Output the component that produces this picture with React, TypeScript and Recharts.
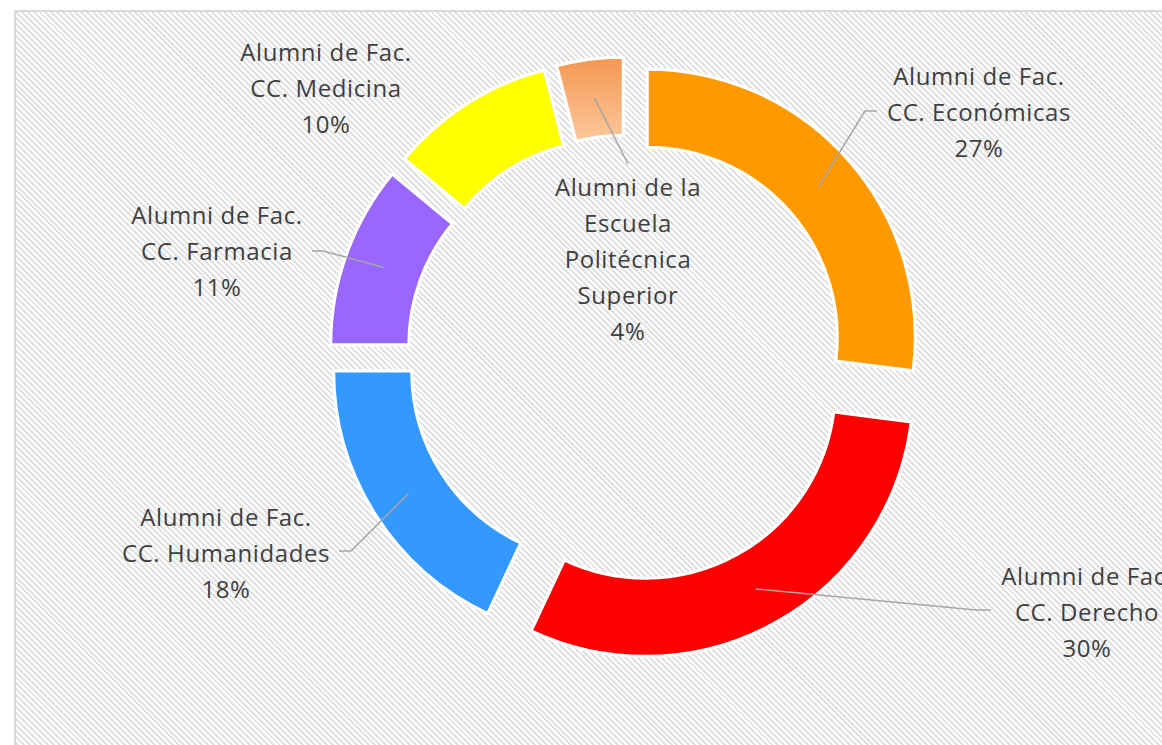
import { PieChart, Pie, Cell } from 'recharts'

const CATEGORIAS = [
  'Alumni de Fac.\nCC. Económicas',
  'Alumni de Fac.\nCC. Derecho',
  'Alumni de Fac.\nCC. Humanidades',
  'Alumni de Fac.\nCC. Farmacia',
  'Alumni de Fac.\nCC. Medicina',
  'Alumni de la\nEscuela\nPolitécnica\nSuperior',
]
const VALORES = [27, 30, 18, 11, 10, 4]

const CORES = ['#FF9900', '#FF0000', '#3399FF', '#9966FF', '#FFFF00', 'url(#gradPolitecnica)']

// how far each slice is pulled out from the centre
const EXPLOSAO = [27, 38, 30, 30, 30, 30]

// label placement (text centre x, first line centre y, leader start + elbow)
const LABEL_LAYOUT = [
  { x: 979, y: 76, leader: [[877, 111], [865, 111]] },
  { x: 1087, y: 576, leader: [[991, 610], [976, 610]] },
  { x: 226, y: 517, leader: [[339, 551], [351, 551]] },
  { x: 217, y: 215, leader: [[312, 251], [323, 251]] },
  { x: 326, y: 52, leader: null },
  { x: 628, y: 187, leader: [[628, 164]] },
]

const W = 1162
const H = 745
const CX = 627
const CY = 355
const OUTER = 268
const INNER = 190
const LINE_H = 36
const FONT = "'Open Sans', sans-serif"
const TXT = '#404040'
const LEADER = '#A6A6A6'

const data = CATEGORIAS.map((name, i) => ({ name, value: VALORES[i] }))
const total = VALORES.reduce((s, v) => s + v, 0)
const RAD = Math.PI / 180

// mid angle of every slice (recharts convention, start at 90, clockwise)
const midAngles = VALORES.map((v, i) => {
  const before = VALORES.slice(0, i).reduce((s, x) => s + x, 0)
  return 90 - (360 * (before + v / 2)) / total
})

const HATCH =
  'repeating-linear-gradient(45deg, #ffffff 0px, #ffffff 2.1px, #e2e2e2 2.1px, #e2e2e2 4.2px)'

function makeLabel(k: number) {
  return (props: any) => {
    if (props.index !== k) return null
    const { cx, cy, midAngle, innerRadius, outerRadius, percent } = props
    const mr = (innerRadius + outerRadius) / 2
    const px = cx + mr * Math.cos(-midAngle * RAD)
    const py = cy + mr * Math.sin(-midAngle * RAD)
    const lay = LABEL_LAYOUT[k]
    const lines = [...CATEGORIAS[k].split('\n'), `${Math.round(percent * 100)}%`]
    const pts = lay.leader ? [...lay.leader, [px, py]] : null
    return (
      <g key={`lbl-${k}`}>
        {pts && (
          <polyline
            points={pts.map((p) => p.join(',')).join(' ')}
            fill="none"
            stroke={LEADER}
            strokeWidth={1.5}
          />
        )}
        <text
          x={lay.x}
          y={lay.y}
          textAnchor="middle"
          fontFamily={FONT}
          fontSize={24}
          letterSpacing={0.6}
          fill={TXT}
        >
          {lines.map((l, j) => (
            <tspan key={j} x={lay.x} y={lay.y + j * LINE_H} dy="0.36em">
              {l}
            </tspan>
          ))}
        </text>
      </g>
    )
  }
}

export default function App() {
  return (
    <div style={{ position: 'fixed', left: 0, top: 0, width: W, height: H, overflow: 'hidden', background: '#fff' }}>
      <div
        style={{
          position: 'absolute',
          left: 14,
          top: 10,
          width: W + 20,
          height: H + 20,
          border: '2px solid #D9D9D9',
          backgroundImage: HATCH,
        }}
      />
      <div style={{ position: 'absolute', left: 0, top: 0 }}>
        <PieChart width={W} height={H} margin={{ top: 0, right: 0, bottom: 0, left: 0 }}>
          <defs>
            <linearGradient id="gradPolitecnica" x1="0" y1="0" x2="0" y2="1">
              <stop offset="0%" stopColor="#F59650" />
              <stop offset="100%" stopColor="#FBC89C" />
            </linearGradient>
          </defs>
          {VALORES.map((_, k) => (
            <Pie
              key={k}
              data={data}
              dataKey="value"
              nameKey="name"
              cx={CX + EXPLOSAO[k] * Math.cos(-midAngles[k] * RAD)}
              cy={CY + EXPLOSAO[k] * Math.sin(-midAngles[k] * RAD)}
              innerRadius={INNER}
              outerRadius={OUTER}
              startAngle={90}
              endAngle={-270}
              isAnimationActive={false}
              labelLine={false}
              label={makeLabel(k)}
            >
              {data.map((_d, i) => (
                <Cell
                  key={i}
                  fill={i === k ? CORES[i] : 'none'}
                  stroke={i === k ? '#ffffff' : 'none'}
                  strokeWidth={3}
                />
              ))}
            </Pie>
          ))}
        </PieChart>
      </div>
    </div>
  )
}
